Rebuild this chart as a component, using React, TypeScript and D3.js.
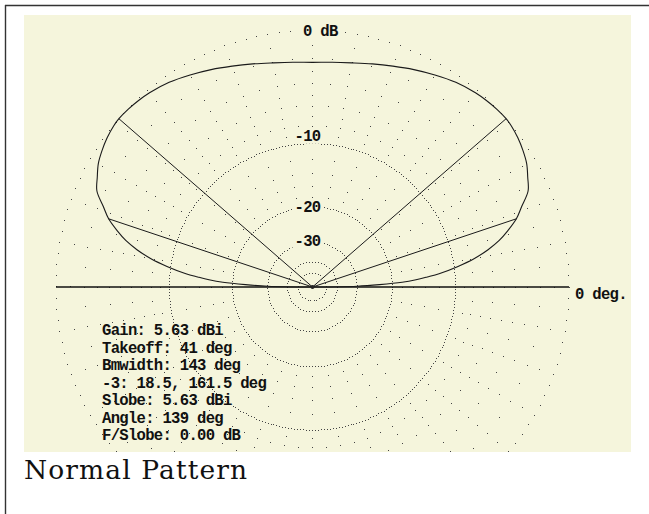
import React, { useEffect, useRef } from "react";
import * as d3 from "d3";

// elevation pattern (dBi), 0..90 deg, mirrored for 90..180
const elevations = [0, 1, 2, 3, 4, 5, 6, 8, 10, 12, 14, 16, 18.5, 21, 24, 27, 30, 33, 36, 39, 41, 44, 47, 50, 55, 60, 65, 70, 75, 80, 85, 90];
const gainDbi = [-99, -24.4, -17.4, -12.4, -9.9, -8.1, -6.4, -4.0, -2.0, -0.5, 0.7, 1.6, 2.6, 3.3, 4.2, 4.6, 5.0, 5.25, 5.45, 5.59, 5.63, 5.6, 5.53, 5.43, 5.18, 4.83, 4.48, 4.13, 3.83, 3.58, 3.43, 3.35];
const maxGain = 5.63;
const takeoffAngles = [41, 139];
const halfPowerAngles = [18.5, 161.5];

const labelDb = [0, -10, -20, -30];
const labelText = ["0 dB", "-10", "-20", "-30"];

const outerRingDb = [0];
const evenRingsDb = [-2, -4, -6, -8];
const oddRingsDb = [-1, -3, -5, -7, -9];
const midRingsDb = [-12, -14, -16, -18];
const denseRingsDb = [-10, -20, -30, -40, -50];

const infoLines = [
  "Gain: 5.63 dBi",
  "Takeoff: 41 deg",
  "Bmwidth: 143 deg",
  "-3: 18.5, 161.5 deg",
  "Slobe: 5.63 dBi",
  "Angle: 139 deg",
  "F/Slobe: 0.00 dB",
];

const W = 649;
const H = 514;
const CX = 312.5;
const CY = 287;
const R = 256.5;
const panel = { x: 24, y: 15, w: 607, h: 437 };
const bg = "#f5f5dc";
const mono = "'Liberation Mono', 'DejaVu Sans Mono', monospace";
const monoSize = 15.6;
const monoSpacing = 8.64 - monoSize * 0.6;

// ARRL log scale: each 2 dB shrinks the radius by 0.89
const rScale = (db: number) => R * Math.pow(0.89, -db / 2);
const toRad = (deg: number) => (deg * Math.PI) / 180;

const App = () => {
  const ref = useRef<SVGSVGElement>(null);

  useEffect(() => {
    const svg = d3.select(ref.current);
    svg.selectAll("*").remove();

    // outer frame (top and left only)
    svg.append("line").attr("x1", 5).attr("x2", W).attr("y1", 5.5).attr("y2", 5.5)
      .attr("stroke", "#333").attr("stroke-width", 1.4);
    svg.append("line").attr("x1", 5.5).attr("x2", 5.5).attr("y1", 5).attr("y2", H)
      .attr("stroke", "#333").attr("stroke-width", 1.4);

    svg.append("defs").append("clipPath").attr("id", "panelClip")
      .append("rect").attr("x", panel.x).attr("y", panel.y).attr("width", panel.w).attr("height", panel.h);

    svg.append("rect").attr("x", panel.x).attr("y", panel.y)
      .attr("width", panel.w).attr("height", panel.h).attr("fill", bg);

    const g = svg.append("g").attr("clip-path", "url(#panelClip)");

    // dotted rings
    const dots: [number, number][] = [];
    const addRing = (db: number, stepDeg: number | null) => {
      const r = rScale(db);
      const n = stepDeg ? Math.round(360 / stepDeg) : Math.round((2 * Math.PI * r) / 3);
      for (let i = 0; i < n; i++) {
        const a = (2 * Math.PI * i) / n + Math.PI / 2;
        dots.push([CX + r * Math.cos(a), CY - r * Math.sin(a)]);
      }
    };
    outerRingDb.forEach(d => addRing(d, 2.5));
    evenRingsDb.forEach(d => addRing(d, 5));
    oddRingsDb.forEach(d => addRing(d, 10));
    midRingsDb.forEach(d => addRing(d, 10));
    denseRingsDb.forEach(d => addRing(d, null));

    g.append("g").selectAll("rect").data(dots).join("rect")
      .attr("x", d => Math.floor(d[0]))
      .attr("y", d => Math.floor(d[1]))
      .attr("width", 1).attr("height", 1)
      .attr("fill", "#444");

    // baseline
    g.append("line").attr("x1", CX - R).attr("x2", CX + R).attr("y1", CY).attr("y2", CY)
      .attr("stroke", "#111").attr("stroke-width", 1.5);

    // pattern
    const pattern = elevations.map((e, i) => ({ elev: e, db: gainDbi[i] - maxGain }));
    for (let i = elevations.length - 2; i >= 0; i--) {
      pattern.push({ elev: 180 - elevations[i], db: gainDbi[i] - maxGain });
    }
    const radial = d3.lineRadial<{ elev: number; db: number }>()
      .angle(d => toRad(90 - d.elev))
      .radius(d => rScale(d.db))
      .curve(d3.curveCatmullRom);

    const pg = g.append("g").attr("transform", `translate(${CX},${CY})`);
    pg.append("path").attr("d", radial(pattern))
      .attr("fill", "none").attr("stroke", "#1a1a1a").attr("stroke-width", 1.1);

    const spoke = (elev: number, db: number) =>
      pg.append("line").attr("x1", 0).attr("y1", 0)
        .attr("x2", rScale(db) * Math.cos(toRad(elev)))
        .attr("y2", -rScale(db) * Math.sin(toRad(elev)))
        .attr("stroke", "#1a1a1a").attr("stroke-width", 1);
    takeoffAngles.forEach(a => spoke(a, 0));
    halfPowerAngles.forEach(a => spoke(a, -3));

    pg.append("circle").attr("r", 2).attr("fill", "#222");

    // ring labels
    const labelDy = [5.5, -2.5, 4.5, 3.5];
    labelDb.forEach((db, i) => {
      const x = i === 0 ? CX - 9.5 : CX - 18;
      const y = CY - rScale(db) + labelDy[i];
      const w = labelText[i].length * 8.64;
      svg.append("rect").attr("x", x - 2).attr("y", y - 11.5).attr("width", w + 4).attr("height", 14)
        .attr("fill", bg);
      svg.append("text").attr("x", x).attr("y", y)
        .attr("font-family", mono).attr("font-weight", "bold")
        .attr("font-size", monoSize).attr("letter-spacing", monoSpacing)
        .attr("fill", "#111").text(labelText[i]);
    });

    svg.append("text").attr("x", CX + R + 6).attr("y", 298.5)
      .attr("font-family", mono).attr("font-weight", "bold")
      .attr("font-size", monoSize).attr("letter-spacing", monoSpacing)
      .attr("fill", "#111").text("0 deg.");

    // summary block
    svg.append("g").selectAll("text").data(infoLines).join("text")
      .attr("x", 102)
      .attr("y", (_, i) => 335 + i * 17.5)
      .attr("font-family", mono).attr("font-weight", "bold")
      .attr("font-size", monoSize).attr("letter-spacing", monoSpacing)
      .attr("fill", "#111")
      .text(d => d);

    svg.append("text").attr("x", 24).attr("y", 479)
      .attr("font-family", "'DejaVu Serif', serif").attr("font-size", 26.5)
      .attr("letter-spacing", 1.1)
      .attr("fill", "#111").text("Normal Pattern");
  }, []);

  return (
    <svg ref={ref} width={W} height={H}
      style={{ position: "absolute", left: 0, top: 0, background: "#fff" }} />
  );
};

export default App;
